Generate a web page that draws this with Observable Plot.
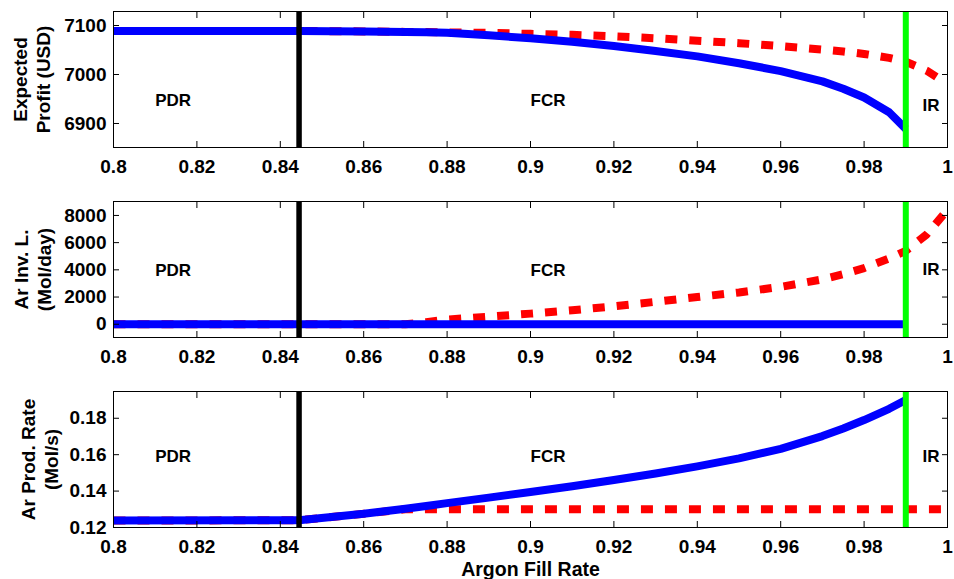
<!DOCTYPE html>
<html><head><meta charset="utf-8">
<script src="https://cdn.jsdelivr.net/npm/d3@7"></script>
<script src="https://cdn.jsdelivr.net/npm/@observablehq/plot@0.6"></script>
<style>
body{margin:0;background:#fff;}
#chart svg{display:block;}
</style>
</head><body><div id="chart"></div>
<script>
// Argon fill rate grid
const fillRate = [0.80, 0.8445, 0.86, 0.87, 0.875, 0.88, 0.89, 0.90, 0.91, 0.92, 0.93, 0.94, 0.95, 0.96, 0.97, 0.975, 0.98, 0.986, 0.99, 0.995, 0.999];
// Expected profit (USD)
const blueProfit = [7089, 7089, 7088, 7087, 7086, 7085, 7080, 7074, 7067, 7058, 7048, 7037, 7023, 7007, 6986, 6971, 6953, 6923, 6889, null, null];
const redProfit  = [7089, 7089, 7088, 7087, 7087, 7086, 7085, 7083, 7081, 7078, 7074, 7069, 7064, 7058, 7051, 7047, 7042, 7034, 7026, 7008, 6986];
// Ar inventory level (Mol/day)
const blueInv = [0, 0, 0, 0, 0, 0, 0, 0, 0, 0, 0, 0, 0, 0, 0, 0, 0, 0, 0, null, null];
const redInv  = [0, 0, 0, 0, 150, 340, 560, 780, 1030, 1320, 1650, 2000, 2340, 2750, 3300, 3680, 4130, 4840, 5400, 6600, 8050];
// Ar production rate (Mol/s)
const blueRate = [0.1238, 0.1240, 0.1275, 0.1303, 0.1318, 0.1334, 0.1364, 0.1395, 0.1427, 0.1461, 0.1497, 0.1536, 0.1580, 0.1632, 0.1702, 0.1744, 0.1790, 0.1852, 0.1900, null, null];
const redRate  = [0.1238, 0.1240, 0.1275, 0.1300, 0.1300, 0.1300, 0.1300, 0.1300, 0.1300, 0.1300, 0.1300, 0.1300, 0.1300, 0.1300, 0.1300, 0.1300, 0.1300, 0.1300, 0.1300, 0.1300, 0.1300];

// Region boundaries and labels
const pdrBoundary = 0.8445;
const irBoundary = 0.99;
const regionNames = ["PDR", "FCR", "IR"];
const regionX = [0.81, 0.90, 0.994];
const profitLabelY = [6947, 6947, 6937];
const invLabelY = [3950, 3950, 4050];
const rateLabelY = [0.159, 0.159, 0.159];

// Ticks
const xTicks = [0.8, 0.82, 0.84, 0.86, 0.88, 0.9, 0.92, 0.94, 0.96, 0.98, 1];
const profitTicks = [6900, 7000, 7100];
const invTicks = [0, 2000, 4000, 6000, 8000];
const rateTicks = [0.12, 0.14, 0.16, 0.18];

const profitDomain = [6851, 7128.6];
const invDomain = [-975, 9025];
const rateDomain = [0.12, 0.1947];

const FONT = "'Liberation Sans', Arial, Helvetica, sans-serif";

function panel({height, marginBottom, yDomain, yTicks, blue, red, labelText, labelDx, labelY, xLabel}) {
  const rows = fillRate.map((x, i) => ({x, blue: blue[i], red: red[i]}));
  const marks = [
    Plot.line(rows, {x: "x", y: "red", stroke: "#ff0000", strokeWidth: 8, strokeDasharray: "12,12", strokeLinecap: "butt", strokeLinejoin: "round"}),
    Plot.line(rows, {x: "x", y: "blue", stroke: "#0000ff", strokeWidth: 8, strokeLinecap: "butt", strokeLinejoin: "round"}),
    Plot.ruleX([pdrBoundary], {stroke: "#000000", strokeWidth: 5.5}),
    Plot.ruleX([irBoundary], {stroke: "#00ff00", strokeWidth: 6}),
    Plot.text(regionNames, {x: (d, i) => regionX[i], y: (d, i) => labelY[i], text: d => d, textAnchor: "start", fontSize: 17, fontWeight: "bold", fill: "#000"}),
    Plot.frame({stroke: "#000", strokeWidth: 1}),
    Plot.axisX({ticks: xTicks, tickSize: 0, tickPadding: 12, tickFormat: d => String(d), label: null, fontSize: 19, fontWeight: "bold"}),
    Plot.axisX({ticks: xTicks, anchor: "bottom", tickSize: -6, tickFormat: () => "", label: null}),
    Plot.axisX({ticks: xTicks, anchor: "top", tickSize: -6, tickFormat: () => "", label: null}),
    Plot.axisY({ticks: yTicks, tickSize: 0, tickPadding: 7, tickFormat: d => String(d), label: null, fontSize: 19, fontWeight: "bold"}),
    Plot.axisY({ticks: yTicks, anchor: "left", tickSize: -6, tickFormat: () => "", label: null}),
    Plot.axisY({ticks: yTicks, anchor: "right", tickSize: -6, tickFormat: () => "", label: null}),
    Plot.text([labelText], {frameAnchor: "left", textAnchor: "middle", lineAnchor: "middle", rotate: -90, dx: labelDx, lineHeight: 1.25, text: d => d, fontSize: 19, fontWeight: "bold", fill: "#000"})
  ];
  if (xLabel) {
    marks.push(Plot.text([xLabel], {frameAnchor: "bottom", textAnchor: "middle", lineAnchor: "top", dy: 35, text: d => d, fontSize: 19.5, fontWeight: "bold", fill: "#000"}));
  }
  return Plot.plot({
    width: 954,
    height,
    marginLeft: 113,
    marginRight: 7,
    marginTop: 11,
    marginBottom,
    style: {fontFamily: FONT, fontSize: "19px", fontWeight: "bold", color: "#000", background: "#fff", overflow: "visible"},
    x: {domain: [0.8, 1]},
    y: {domain: yDomain},
    marks
  });
}

const chart = document.getElementById("chart");
chart.appendChild(panel({height: 190, marginBottom: 43, yDomain: profitDomain, yTicks: profitTicks, blue: blueProfit, red: redProfit, labelText: "Expected\nProfit (USD)", labelDx: -82.5, labelY: profitLabelY}));
chart.appendChild(panel({height: 190, marginBottom: 43, yDomain: invDomain, yTicks: invTicks, blue: blueInv, red: redInv, labelText: "Ar Inv. L.\n(Mol/day)", labelDx: -81.7, labelY: invLabelY}));
chart.appendChild(panel({height: 199, marginBottom: 52, yDomain: rateDomain, yTicks: rateTicks, blue: blueRate, red: redRate, labelText: "Ar Prod. Rate\n(Mol/s)", labelDx: -74.6, labelY: rateLabelY, xLabel: "Argon Fill Rate"}));
</script>
</body></html>
